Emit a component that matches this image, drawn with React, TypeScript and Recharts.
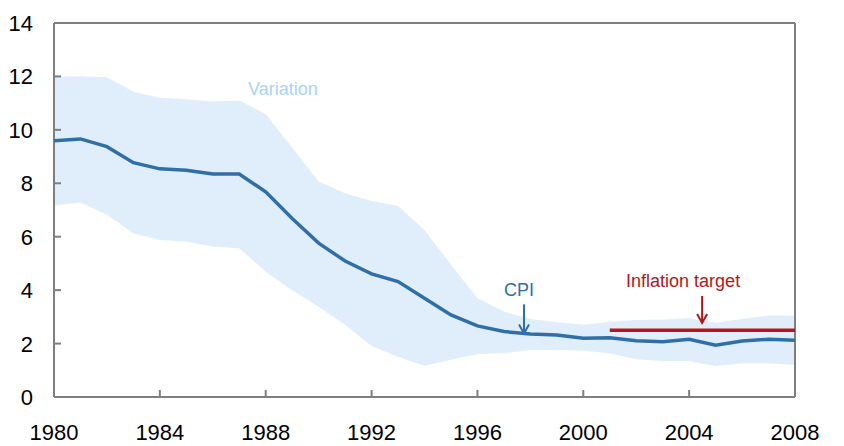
import { Area, ComposedChart, Line, ReferenceDot, ReferenceLine, XAxis, YAxis } from "recharts";

const YEARS = [
  1980, 1981, 1982, 1983, 1984, 1985, 1986, 1987, 1988, 1989,
  1990, 1991, 1992, 1993, 1994, 1995, 1996, 1997, 1998, 1999,
  2000, 2001, 2002, 2003, 2004, 2005, 2006, 2007, 2008,
];

const CPI = [
  9.59, 9.66, 9.37, 8.77, 8.54, 8.49, 8.35, 8.35, 7.68, 6.68,
  5.76, 5.09, 4.61, 4.32, 3.7, 3.07, 2.66, 2.45, 2.36, 2.32,
  2.2, 2.22, 2.11, 2.07, 2.16, 1.94, 2.1, 2.16, 2.12,
];

const VARIATION_LOW = [
  7.17, 7.28, 6.82, 6.13, 5.88, 5.82, 5.63, 5.57, 4.69, 4.0,
  3.38, 2.7, 1.91, 1.51, 1.17, 1.39, 1.61, 1.64, 1.76, 1.76,
  1.73, 1.64, 1.41, 1.35, 1.35, 1.16, 1.26, 1.26, 1.2,
];

const VARIATION_HIGH = [
  11.99, 12.01, 11.97, 11.43, 11.2, 11.15, 11.06, 11.1, 10.59, 9.33,
  8.07, 7.63, 7.34, 7.15, 6.25, 4.95, 3.7, 3.2, 2.92, 2.8,
  2.7, 2.82, 2.88, 2.9, 2.95, 2.78, 2.92, 3.05, 3.05,
];

// inflation target starts in 2001
const TARGET = [
  null, null, null, null, null, null, null, null, null, null,
  null, null, null, null, null, null, null, null, null, null,
  null, 2.5, 2.5, 2.5, 2.5, 2.5, 2.5, 2.5, 2.5,
];

const X_TICKS = [1980, 1984, 1988, 1992, 1996, 2000, 2004, 2008];
const Y_TICKS = [0, 2, 4, 6, 8, 10, 12, 14];

const COLORS = {
  cpi: "#2f6fa7",
  band: "#e0eefb",
  bandText: "#a9d3fa",
  target: "#b3161c",
  axis: "#7f7f7f",
  text: "#000000",
};

const FONT = "'Liberation Sans', Arial, sans-serif";
const FRAME_W = 2;

const data = YEARS.map((year, i) => ({
  year,
  cpi: CPI[i],
  band: [VARIATION_LOW[i], VARIATION_HIGH[i]],
  target: TARGET[i],
}));

function XTick(props: any) {
  const { x, y, payload } = props;
  const edge = payload.value === 1980 || payload.value === 2008;
  return (
    <g>
      {!edge && (
        <line x1={x} x2={x} y1={y} y2={y - 7} stroke={COLORS.axis} strokeWidth={FRAME_W} />
      )}
      <text x={x} y={y + 43} textAnchor="middle" fontSize={22} fontFamily={FONT} fill={COLORS.text}>
        {payload.value}
      </text>
    </g>
  );
}

function YTick(props: any) {
  const { x, y, payload, side } = props;
  const edge = payload.value === 0 || payload.value === 14;
  const dir = side === "left" ? 1 : -1;
  return (
    <g>
      {!edge && (
        <line x1={x} x2={x + dir * 7} y1={y} y2={y} stroke={COLORS.axis} strokeWidth={FRAME_W} />
      )}
      <text
        x={side === "left" ? x - 21 : x + 20}
        y={y + 8}
        textAnchor={side === "left" ? "end" : "start"}
        fontSize={22}
        fontFamily={FONT}
        fill={COLORS.text}
      >
        {payload.value}
      </text>
    </g>
  );
}

function Callout(props: any) {
  const { cx, cy, text, color, textDx, arrowLen, textGap } = props;
  return (
    <g>
      {arrowLen > 0 && (
        <>
          <line x1={cx} x2={cx} y1={cy - arrowLen} y2={cy} stroke={color} strokeWidth={2} />
          <path d={`M${cx - 5},${cy - 9} L${cx},${cy} L${cx + 5},${cy - 9}`} fill="none" stroke={color} strokeWidth={2} />
        </>
      )}
      <text
        x={cx + textDx}
        y={cy - arrowLen - textGap}
        textAnchor="middle"
        fontSize={18}
        fontFamily={FONT}
        fill={color}
      >
        {text}
      </text>
    </g>
  );
}

export default function App() {
  return (
    <div style={{ position: "absolute", left: 0, top: 0, width: 844, height: 446, background: "#fff" }}>
      <ComposedChart width={844} height={446} data={data} margin={{ top: 23, right: 0, bottom: 0, left: 0 }}>
        <XAxis
          dataKey="year"
          type="number"
          domain={[1980, 2008]}
          ticks={X_TICKS}
          interval={0}
          height={49}
          tickSize={0}
          tickMargin={0}
          tick={<XTick />}
          axisLine={false}
        />
        <YAxis
          yAxisId="left"
          orientation="left"
          domain={[0, 14]}
          ticks={Y_TICKS}
          interval={0}
          width={54}
          tickSize={0}
          tickMargin={0}
          tick={<YTick side="left" />}
          axisLine={false}
        />
        <YAxis
          yAxisId="right"
          orientation="right"
          domain={[0, 14]}
          ticks={Y_TICKS}
          interval={0}
          width={49}
          tickSize={0}
          tickMargin={0}
          tick={<YTick side="right" />}
          axisLine={false}
        />
        <Area
          yAxisId="left"
          dataKey="band"
          type="linear"
          stroke="none"
          fill={COLORS.band}
          fillOpacity={1}
          isAnimationActive={false}
        />
        {/* plot frame */}
        <ReferenceLine yAxisId="left" y={14} stroke={COLORS.axis} strokeWidth={FRAME_W} />
        <ReferenceLine yAxisId="left" y={0} stroke={COLORS.axis} strokeWidth={FRAME_W} />
        <ReferenceLine yAxisId="left" x={1980} stroke={COLORS.axis} strokeWidth={FRAME_W} />
        <ReferenceLine yAxisId="left" x={2008} stroke={COLORS.axis} strokeWidth={FRAME_W} />
        <Line
          yAxisId="left"
          dataKey="target"
          type="linear"
          stroke={COLORS.target}
          strokeWidth={3.5}
          dot={false}
          connectNulls={false}
          isAnimationActive={false}
        />
        <Line
          yAxisId="left"
          dataKey="cpi"
          type="linear"
          stroke={COLORS.cpi}
          strokeWidth={3.5}
          dot={false}
          isAnimationActive={false}
        />
        <ReferenceDot
          yAxisId="left"
          x={1988.65}
          y={11.31}
          r={0}
          shape={(p: any) => (
            <Callout {...p} text="Variation" color={COLORS.bandText} textDx={0} arrowLen={0} textGap={0} />
          )}
        />
        <ReferenceDot
          yAxisId="left"
          x={1997.76}
          y={2.38}
          r={0}
          shape={(p: any) => (
            <Callout {...p} text="CPI" color={COLORS.cpi} textDx={-5} arrowLen={29} textGap={8} />
          )}
        />
        <ReferenceDot
          yAxisId="left"
          x={2004.49}
          y={2.77}
          r={0}
          shape={(p: any) => (
            <Callout {...p} text="Inflation target" color={COLORS.target} textDx={-19} arrowLen={27} textGap={9} />
          )}
        />
      </ComposedChart>
    </div>
  );
}
